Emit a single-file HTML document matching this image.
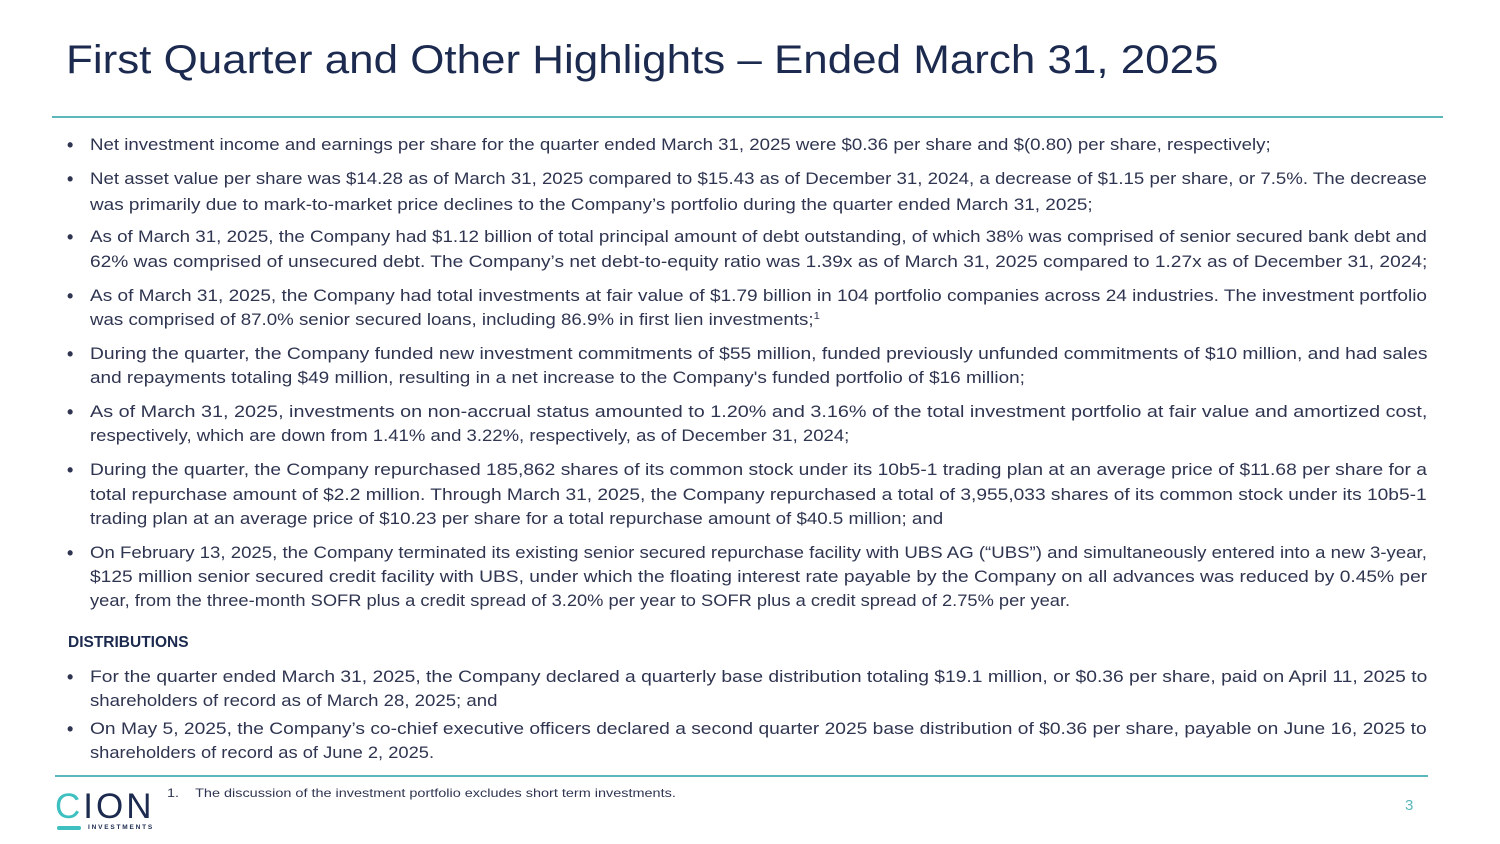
<!DOCTYPE html>
<html><head><meta charset="utf-8">
<style>
html,body{margin:0;padding:0}
body{width:1500px;height:844px;position:relative;background:#fff;overflow:hidden;font-family:"Liberation Sans",sans-serif}
.t{position:absolute;left:66px;top:38px;font-size:40px;color:#1b2a4e;white-space:nowrap;transform-origin:0 0}
.rule{position:absolute;height:2px;background:#5bb7ba}
.ln{position:absolute;white-space:nowrap;font-size:16.5px;color:#2f3550;transform-origin:0 50%;line-height:20px}
.b{position:absolute;font-size:18px;font-weight:bold;color:#2f3550;line-height:20px}
.h{position:absolute;left:68px;font-size:15.5px;font-weight:bold;color:#1b2a4e;line-height:20px}
sup{font-size:10px;line-height:0;vertical-align:6px}
</style></head><body>
<div class="t">First Quarter and Other Highlights – Ended March 31, 2025</div>
<div class="rule" style="left:52px;top:116px;width:1391px"></div>

<div id="body"></div>

<div class="rule" style="left:55px;top:775px;width:1373px"></div>
<div style="position:absolute;left:55px;top:788px;width:105px;height:45px">
  <div style="position:absolute;left:0;top:0;font-size:35px;letter-spacing:3px;color:#1b2a4e;line-height:38px"><span style="color:#3ec0c0">C</span>ION</div>
  <div style="position:absolute;left:2px;top:38px;width:24px;height:4px;border-radius:2px;background:#3ec0c0"></div>
  <div style="position:absolute;left:33px;top:36px;font-size:6.5px;font-weight:bold;letter-spacing:1.8px;color:#1b2a4e">INVESTMENTS</div>
</div>
<div id="fn" style="position:absolute;left:167px;top:786px;font-size:12px;color:#2f3550;white-space:nowrap;transform-origin:0 0">1.&nbsp;&nbsp;&nbsp;&nbsp;The discussion of the investment portfolio excludes short term investments.</div>
<div style="position:absolute;left:1405px;top:797px;font-size:15px;color:#5bb7ba">3</div>

<script>
const lines=[
[145,true,1271,"Net investment income and earnings per share for the quarter ended March 31, 2025 were $0.36 per share and $(0.80) per share, respectively;"],
[179,true,1427,"Net asset value per share was $14.28 as of March 31, 2025 compared to $15.43 as of December 31, 2024, a decrease of $1.15 per share, or 7.5%. The decrease"],
[205,false,1093,"was primarily due to mark-to-market price declines to the Company’s portfolio during the quarter ended March 31, 2025;"],
[237,true,1427,"As of March 31, 2025, the Company had $1.12 billion of total principal amount of debt outstanding, of which 38% was comprised of senior secured bank debt and"],
[262,false,1427,"62% was comprised of unsecured debt. The Company’s net debt-to-equity ratio was 1.39x as of March 31, 2025 compared to 1.27x as of December 31, 2024;"],
[296,true,1427,"As of March 31, 2025, the Company had total investments at fair value of $1.79 billion in 104 portfolio companies across 24 industries. The investment portfolio"],
[320,false,820,"was comprised of 87.0% senior secured loans, including 86.9% in first lien investments;<sup>1</sup>"],
[354,true,1427,"During the quarter, the Company funded new investment commitments of $55 million, funded previously unfunded commitments of $10 million, and had sales"],
[378,false,1025,"and repayments totaling $49 million, resulting in a net increase to the Company's funded portfolio of $16 million;"],
[412,true,1427,"As of March 31, 2025, investments on non-accrual status amounted to 1.20% and 3.16% of the total investment portfolio at fair value and amortized cost,"],
[436,false,849,"respectively, which are down from 1.41% and 3.22%, respectively, as of December 31, 2024;"],
[470,true,1427,"During the quarter, the Company repurchased 185,862 shares of its common stock under its 10b5-1 trading plan at an average price of $11.68 per share for a"],
[495,false,1427,"total repurchase amount of $2.2 million. Through March 31, 2025, the Company repurchased a total of 3,955,033 shares of its common stock under its 10b5-1"],
[519,false,943,"trading plan at an average price of $10.23 per share for a total repurchase amount of $40.5 million; and"],
[553,true,1427,"On February 13, 2025, the Company terminated its existing senior secured repurchase facility with UBS AG (“UBS”) and simultaneously entered into a new 3-year,"],
[577,false,1427,"$125 million senior secured credit facility with UBS, under which the floating interest rate payable by the Company on all advances was reduced by 0.45% per"],
[601,false,1070,"year, from the three-month SOFR plus a credit spread of 3.20% per year to SOFR plus a credit spread of 2.75% per year."],
[677,true,1427,"For the quarter ended March 31, 2025, the Company declared a quarterly base distribution totaling $19.1 million, or $0.36 per share, paid on April 11, 2025 to"],
[701,false,497,"shareholders of record as of March 28, 2025; and"],
[729,true,1427,"On May 5, 2025, the Company’s co-chief executive officers declared a second quarter 2025 base distribution of $0.36 per share, payable on June 16, 2025 to"],
[753,false,434,"shareholders of record as of June 2, 2025."]
];
const body=document.getElementById('body');
lines.forEach((l,i)=>{
  if(l[1]){
    const b=document.createElement('div');
    b.className='b';
    
    
    b.style.left='67px';b.style.top=(l[0]-10)+'px';
    b.textContent='•';
    body.appendChild(b);
  }
  const d=document.createElement('div');
  d.className='ln';
  
  
  d.style.left='90px';d.style.top=(l[0]-10)+'px';
  d.innerHTML=l[3];
  body.appendChild(d);
  const w=d.scrollWidth;
  d.style.transform='scaleX('+((l[2]-90)/w)+')';
});
const h=document.createElement('div');
h.className='h';


h.style.top='633px';
h.textContent='DISTRIBUTIONS';
body.appendChild(h);
const t=document.querySelector('.t');
t.style.transform='scaleX('+(1152/t.scrollWidth)+')';
const fn=document.getElementById('fn');
fn.style.transform='scaleX('+(509/fn.scrollWidth)+')';
</script>
</body></html>
